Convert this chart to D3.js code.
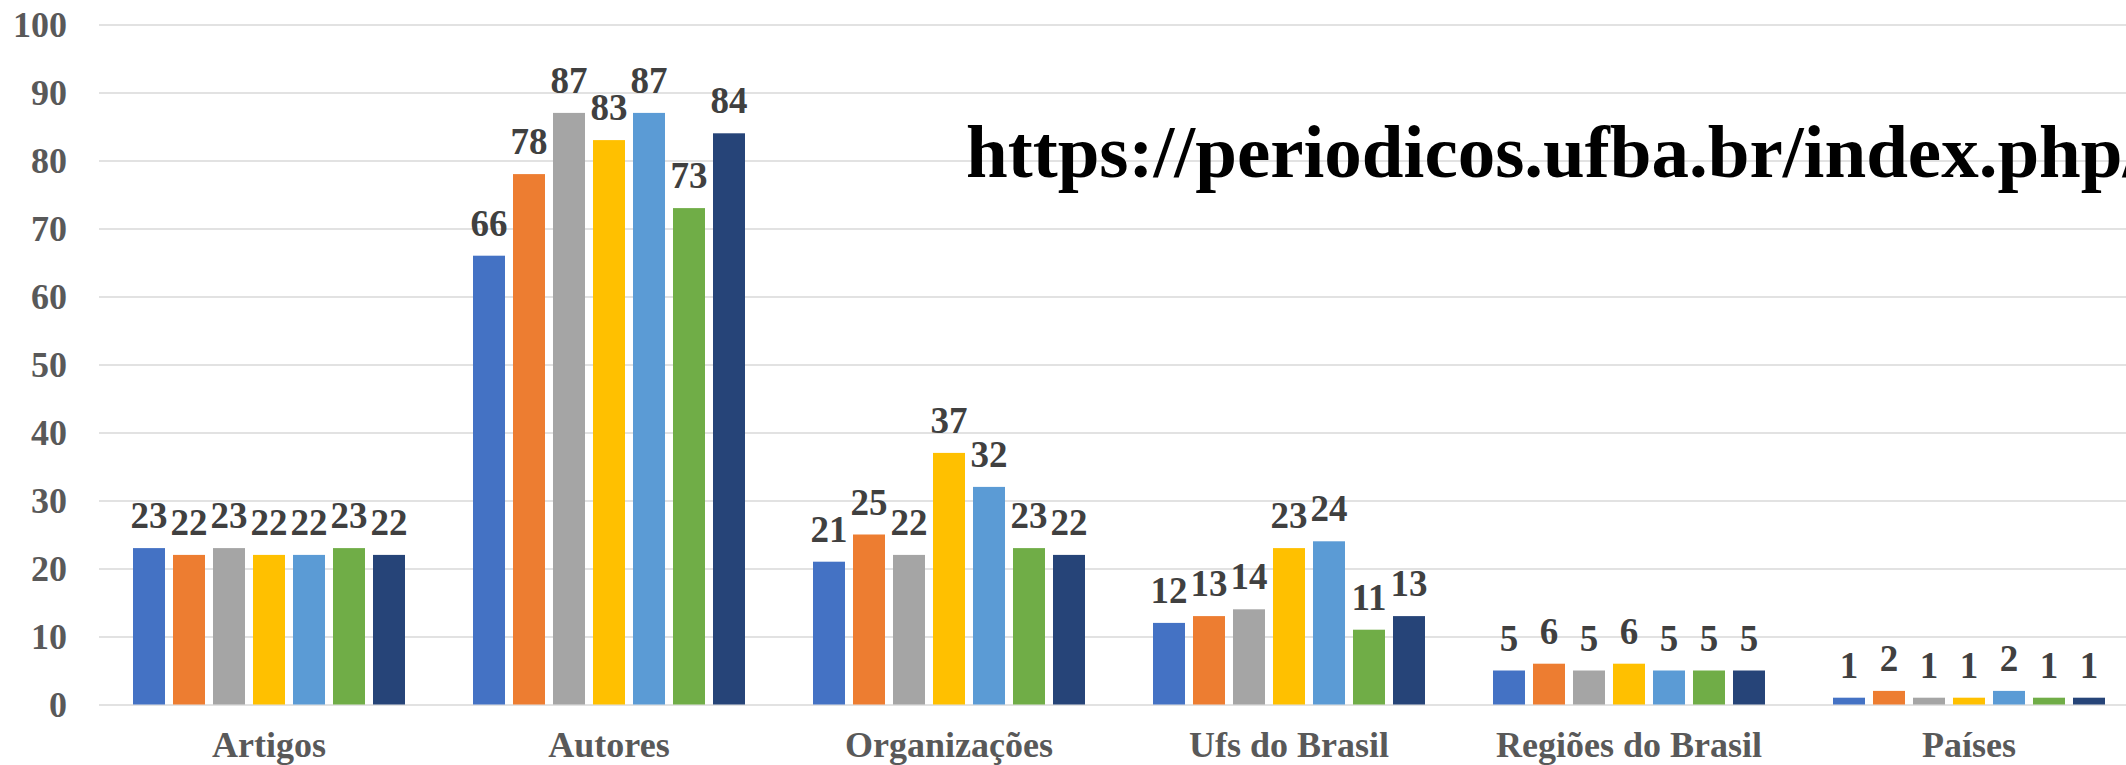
<!DOCTYPE html>
<head>
<meta charset="utf-8">
<script src="https://d3js.org/d3.v7.min.js"></script>
<style>
body {
margin: 0;
background: white;
}
svg {
display: block;
overflow: hidden;
}
.grid line {
stroke: #d9d9d9;
stroke-width: 1.6px;
}
.grid path {
display: none;
}
</style>
</head>

<body>

<svg width=2126 height=765></svg>

<script>
// categorias do eixo x
var categorias = ["Artigos", "Autores", "Organizações", "Ufs do Brasil", "Regiões do Brasil", "Países"];
var series = ["s1", "s2", "s3", "s4", "s5", "s6", "s7"];
var cores = ["#4472c4", "#ed7d31", "#a5a5a5", "#ffc000", "#5b9bd5", "#70ad47", "#264478"];

var artigos = [23, 22, 23, 22, 22, 23, 22];
var autores = [66, 78, 87, 83, 87, 73, 84];
var organizacoes = [21, 25, 22, 37, 32, 23, 22];
var ufs = [12, 13, 14, 23, 24, 11, 13];
var regioes = [5, 6, 5, 6, 5, 5, 5];
var paises = [1, 2, 1, 1, 2, 1, 1];

var yTicks = [0, 10, 20, 30, 40, 50, 60, 70, 80, 90, 100];
var urlTexto = "https://periodicos.ufba.br/index.php/";

var valores = [artigos, autores, organizacoes, ufs, regioes, paises];

var fonte = "'Liberation Serif'";

var svg = d3.select("svg");
var margin = {top: 24.5, right: -13, bottom: 60.5, left: 99};
var width = 2126;
var height = 765;

var x0 = d3.scaleBand()
	.domain(categorias)
	.range([margin.left, width - margin.right])
	.paddingInner(0.2)
	.paddingOuter(0.1);

var x1 = d3.scaleBand()
	.domain(series)
	.range([0, x0.bandwidth()])
	.paddingInner(0.2);

var y = d3.scaleLinear()
	.domain([0, 100])
	.range([height - margin.bottom, margin.top]);

var z = d3.scaleOrdinal().domain(series).range(cores);

// linhas de grade
svg.append("g")
	.attr("class", "grid")
	.attr("transform", "translate(" + margin.left + ",0)")
	.call(d3.axisLeft(y).tickValues(yTicks).tickSize(-(width - margin.left)).tickFormat(""));

// rotulos do eixo y
var ya = svg.append("g")
	.attr("class", "yaxis")
	.attr("transform", "translate(67,0)")
	.call(d3.axisLeft(y).tickValues(yTicks).tickSize(0).tickPadding(0));
ya.select("path").remove();
ya.selectAll("text")
	.style("font-family", fonte)
	.style("font-weight", "bold")
	.style("font-size", "36px")
	.style("fill", "#595959");

// url
svg.append("text")
	.attr("x", 966)
	.attr("y", 177)
	.text(urlTexto)
	.style("font-family", fonte)
	.style("font-weight", "bold")
	.style("font-size", "75px")
	.style("fill", "black");

var grupos = svg.selectAll(".grupo")
	.data(categorias)
	.enter().append("g")
	.attr("class", "grupo")
	.attr("transform", d => "translate(" + x0(d) + ",0)");

var barras = grupos.selectAll("rect")
	.data((d, i) => series.map((s, j) => ({serie: s, valor: valores[i][j]})))
	.enter().append("rect")
	.attr("x", d => x1(d.serie))
	.attr("width", x1.bandwidth())
	.attr("y", d => y(d.valor))
	.attr("height", d => y(0) - y(d.valor))
	.style("fill", d => z(d.serie));

grupos.selectAll(".vlabel")
	.data((d, i) => series.map((s, j) => ({serie: s, valor: valores[i][j]})))
	.enter().append("text")
	.attr("class", "vlabel")
	.attr("text-anchor", "middle")
	.attr("x", d => x1(d.serie) + x1.bandwidth() / 2)
	.attr("y", d => y(d.valor) - 20)
	.text(d => d.valor)
	.style("font-family", fonte)
	.style("font-weight", "bold")
	.style("font-size", "37px")
	.style("fill", "#404040");

grupos.append("text")
	.attr("class", "xlabel")
	.attr("text-anchor", "middle")
	.attr("x", x0.bandwidth() / 2)
	.attr("y", 757)
	.text(d => d)
	.style("font-family", fonte)
	.style("font-weight", "bold")
	.style("font-size", "36px")
	.style("fill", "#595959");
</script>
</body>
